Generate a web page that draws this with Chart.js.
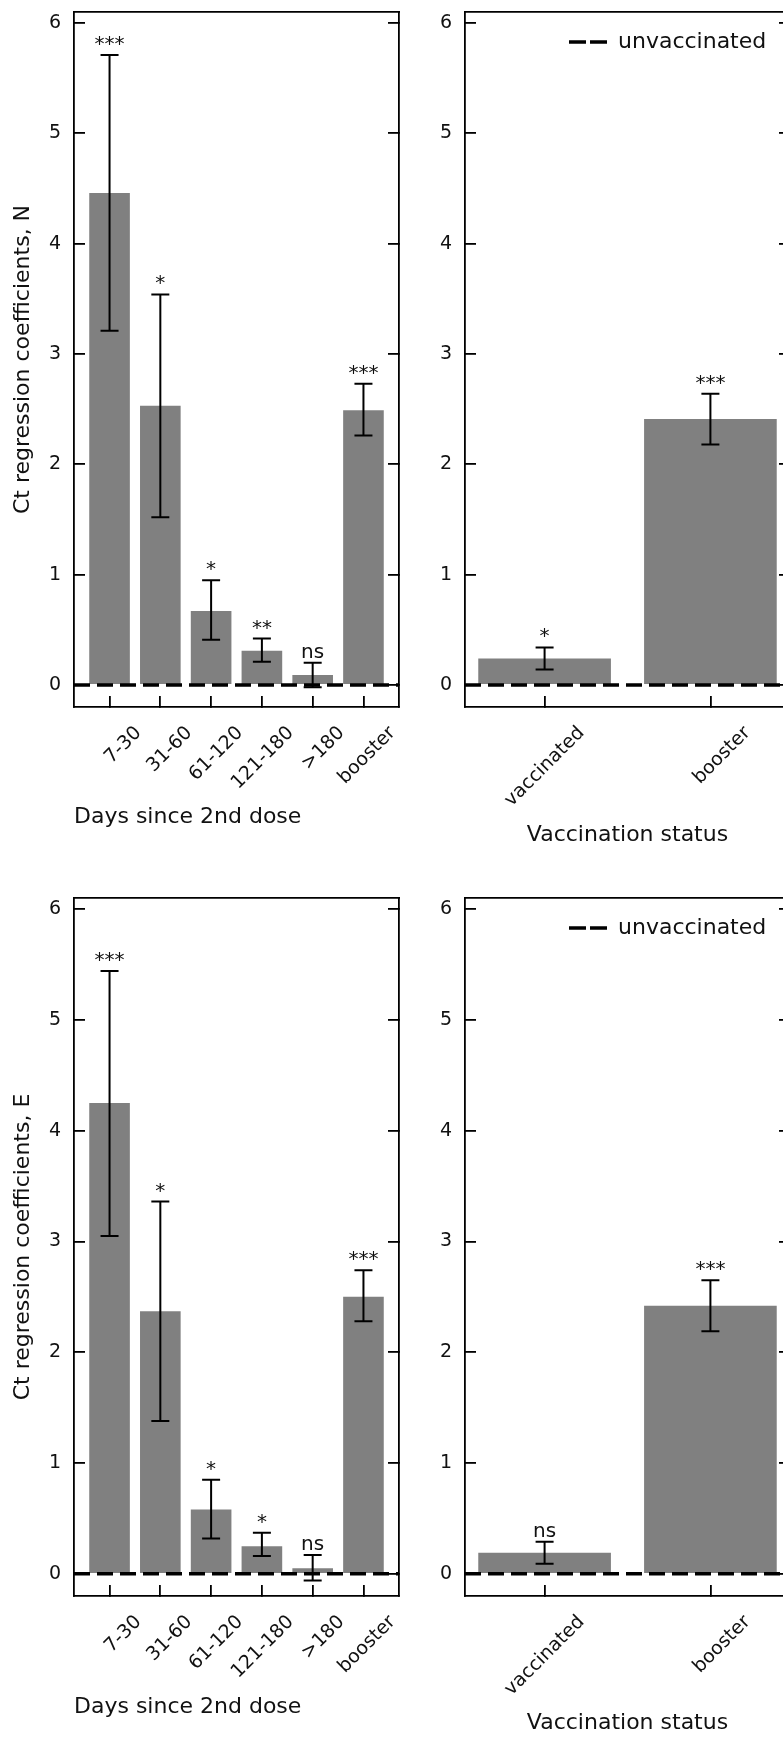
<!DOCTYPE html>
<html>
<head>
<meta charset="utf-8">
<script src="https://cdn.jsdelivr.net/npm/chart.js@4.4.1/dist/chart.umd.min.js"></script>
<style>
  html, body { margin: 0; padding: 0; background: #fff; overflow: hidden; }
  body { width: 783px; height: 1738px; position: relative; }
  canvas { position: absolute; }
</style>
</head>
<body>
<canvas id="nDays" width="410" height="880" style="left:0;top:0;width:410px;height:880px"></canvas>
<canvas id="nStatus" width="390" height="880" style="left:410px;top:0;width:390px;height:880px"></canvas>
<canvas id="eDays" width="410" height="880" style="left:0;top:880px;width:410px;height:880px"></canvas>
<canvas id="eStatus" width="390" height="880" style="left:410px;top:880px;width:390px;height:880px"></canvas>
<script>
const daysLabels = ["7-30", "31-60", "61-120", "121-180", ">180", "booster"];
const statusLabels = ["vaccinated", "booster"];
const yTicks = [0, 1, 2, 3, 4, 5, 6];
const unvaccinated = 0; // reference level

// N gene
const nDays = [4.46, 2.53, 0.67, 0.31, 0.09, 2.49];
const nDaysLow = [3.21, 1.52, 0.41, 0.21, -0.02, 2.26];
const nDaysHigh = [5.71, 3.54, 0.95, 0.42, 0.20, 2.73];
const nDaysSig = ["***", "*", "*", "**", "ns", "***"];
const nStatus = [0.24, 2.41];
const nStatusLow = [0.14, 2.18];
const nStatusHigh = [0.34, 2.64];
const nStatusSig = ["*", "***"];

// E gene
const eDays = [4.25, 2.37, 0.58, 0.25, 0.05, 2.50];
const eDaysLow = [3.05, 1.38, 0.32, 0.16, -0.06, 2.28];
const eDaysHigh = [5.44, 3.36, 0.85, 0.37, 0.17, 2.74];
const eDaysSig = ["***", "*", "*", "*", "ns", "***"];
const eStatus = [0.19, 2.42];
const eStatusLow = [0.09, 2.19];
const eStatusHigh = [0.29, 2.65];
const eStatusSig = ["ns", "***"];

const Y_MIN = -0.2;
const Y_MAX = 6.1;

Chart.defaults.font.family = "'DejaVu Sans', sans-serif";
Chart.defaults.color = "#111";
Chart.defaults.animation = false;

function errorBarPlugin(low, high, sig) {
  return {
    id: "errorBars",
    afterDatasetsDraw(chart) {
      const { ctx } = chart;
      const xs = chart.scales.x;
      const ys = chart.scales.y;
      ctx.save();
      ctx.strokeStyle = "#000";
      ctx.lineWidth = 2;
      ctx.fillStyle = "#111";
      ctx.font = "20px 'DejaVu Sans'";
      ctx.textAlign = "center";
      ctx.textBaseline = "alphabetic";
      low.forEach((lo, i) => {
        const px = xs.getPixelForValue(i);
        const yLo = ys.getPixelForValue(lo);
        const yHi = ys.getPixelForValue(high[i]);
        ctx.beginPath();
        ctx.moveTo(px, yLo);
        ctx.lineTo(px, yHi);
        ctx.moveTo(px - 9, yLo);
        ctx.lineTo(px + 9, yLo);
        ctx.moveTo(px - 9, yHi);
        ctx.lineTo(px + 9, yHi);
        ctx.stroke();
        ctx.fillText(sig[i], px, yHi - 5);
      });
      ctx.restore();
    },
  };
}

// legend sits inside the plot, top right
const legendInside = {
  id: "legendInside",
  afterLayout(chart) {
    const lg = chart.legend;
    if (!lg || !lg.options.display) return;
    const ca = chart.chartArea;
    lg.left = ca.left + 80;
    lg.right = lg.left + lg.width;
    lg.top = ca.top + 9;
    lg.bottom = lg.top + 44;
  },
};

function inwardGrid() {
  return {
    display: true,
    drawOnChartArea: false,
    drawTicks: true,
    tickLength: -11,
    color: "#000",
    lineWidth: 1.8,
    offset: false,
  };
}

const spine = { display: true, color: "#000", width: 1.8 };

function drawPanel(id, cats, values, low, high, sig, o) {
  const el = document.getElementById(id);
  const xMin = -o.xPad;
  const xMax = cats.length - 1 + o.xPad;

  return new Chart(el, {
    type: "bar",
    data: {
      datasets: [
        {
          type: "bar",
          label: "coefficient",
          data: values.map((v, i) => ({ x: i, y: v })),
          backgroundColor: "#808080",
          borderWidth: 0,
          barPercentage: 0.8,
          categoryPercentage: 1.0,
          order: 2,
        },
        {
          type: "line",
          label: "unvaccinated",
          data: [
            { x: xMin, y: unvaccinated },
            { x: xMax, y: unvaccinated },
          ],
          borderColor: "#000",
          borderWidth: 3.5,
          borderDash: [16, 7],
          pointRadius: 0,
          pointStyle: "line",
          fill: false,
          order: 1,
        },
      ],
    },
    options: {
      responsive: false,
      maintainAspectRatio: false,
      layout: { padding: 0 },
      plugins: {
        tooltip: { enabled: false },
        legend: {
          display: o.legend,
          position: "chartArea",
          align: "start",
          labels: {
            usePointStyle: true,
            pointStyleWidth: 52,
            padding: 10,
            color: "#111",
            font: { size: 22 },
            generateLabels(chart) {
              const ds = chart.data.datasets[1];
              return [
                {
                  text: ds.label,
                  datasetIndex: 1,
                  hidden: false,
                  fillStyle: ds.borderColor,
                  strokeStyle: ds.borderColor,
                  fontColor: "#111",
                  lineWidth: ds.borderWidth,
                  lineDash: [0, 14, 17, 4, 17, 80],
                  lineCap: "butt",
                  pointStyle: "line",
                },
              ];
            },
          },
        },
      },
      scales: {
        x: {
          type: "linear",
          min: xMin,
          max: xMax,
          offset: false,
          grid: inwardGrid(),
          border: spine,
          ticks: {
            autoSkip: false,
            minRotation: 45,
            maxRotation: 45,
            padding: 26,
            labelOffset: o.labelOffset,
            color: "#111",
            font: { size: 19 },
            callback: (v) => cats[v],
          },
          afterBuildTicks: (axis) => {
            axis.ticks = cats.map((c, i) => ({ value: i }));
          },
          afterFit: (s) => {
            s.height = o.bottom;
            s.paddingLeft = 0;
            s.paddingRight = 0;
          },
          title: {
            display: true,
            text: o.xTitle,
            align: o.xTitleAlign,
            color: "#111",
            font: { size: 22 },
            padding: { top: 0, bottom: o.titlePad },
          },
        },
        xTop: {
          type: "linear",
          position: "top",
          min: xMin,
          max: xMax,
          grid: { display: false },
          ticks: { display: false },
          border: spine,
          afterFit: (s) => {
            s.height = o.top;
            s.paddingLeft = 0;
            s.paddingRight = 0;
          },
        },
        y: {
          type: "linear",
          min: Y_MIN,
          max: Y_MAX,
          grid: inwardGrid(),
          border: spine,
          ticks: { padding: 24, color: "#111", font: { size: 19 } },
          afterBuildTicks: (axis) => {
            axis.ticks = yTicks.map((v) => ({ value: v }));
          },
          afterFit: (s) => {
            s.width = o.left;
            s.paddingTop = 0;
            s.paddingBottom = 0;
          },
          title: {
            display: !!o.yTitle,
            text: o.yTitle || "",
            color: "#111",
            font: { size: 22 },
            padding: { top: 10, bottom: 0 },
          },
        },
        yRight: {
          type: "linear",
          position: "right",
          min: Y_MIN,
          max: Y_MAX,
          grid: inwardGrid(),
          border: spine,
          ticks: { display: false },
          afterBuildTicks: (axis) => {
            axis.ticks = yTicks.map((v) => ({ value: v }));
          },
          afterFit: (s) => {
            s.width = o.right;
            s.paddingTop = 0;
            s.paddingBottom = 0;
          },
        },
      },
    },
    plugins: [errorBarPlugin(low, high, sig), legendInside],
  });
}

// top row: N gene
drawPanel("nDays", daysLabels, nDays, nDaysLow, nDaysHigh, nDaysSig, {
  xPad: 0.7, left: 74, right: 11, top: 12, bottom: 173,
  titlePad: 50, labelOffset: 29, legend: false,
  xTitle: "Days since 2nd dose", xTitleAlign: "start",
  yTitle: "Ct regression coefficients, N",
});
drawPanel("nStatus", statusLabels, nStatus, nStatusLow, nStatusHigh, nStatusSig, {
  xPad: 0.48, left: 55, right: 10, top: 12, bottom: 173,
  titlePad: 32, labelOffset: 37, legend: true,
  xTitle: "Vaccination status", xTitleAlign: "center",
});

// bottom row: E gene
drawPanel("eDays", daysLabels, eDays, eDaysLow, eDaysHigh, eDaysSig, {
  xPad: 0.7, left: 74, right: 11, top: 18, bottom: 164,
  titlePad: 40, labelOffset: 29, legend: false,
  xTitle: "Days since 2nd dose", xTitleAlign: "start",
  yTitle: "Ct regression coefficients, E",
});
drawPanel("eStatus", statusLabels, eStatus, eStatusLow, eStatusHigh, eStatusSig, {
  xPad: 0.48, left: 55, right: 10, top: 18, bottom: 164,
  titlePad: 24, labelOffset: 37, legend: true,
  xTitle: "Vaccination status", xTitleAlign: "center",
});
</script>
</body>
</html>
